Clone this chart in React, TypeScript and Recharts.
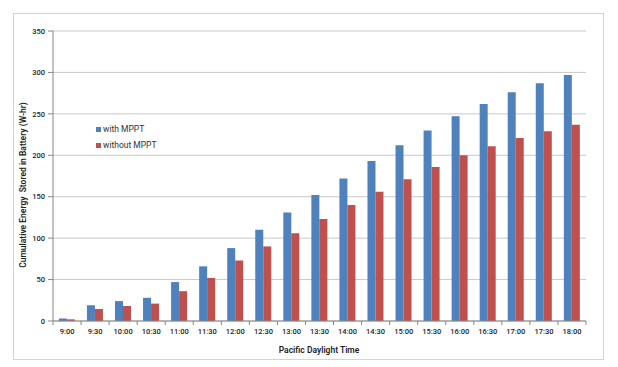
import { Bar, BarChart, CartesianGrid, XAxis, YAxis } from "recharts";

const times = [
    "9:00", "9:30", "10:00", "10:30", "11:00", "11:30", "12:00", "12:30", "13:00", "13:30",
    "14:00", "14:30", "15:00", "15:30", "16:00", "16:30", "17:00", "17:30", "18:00",
];
const withMppt = [3, 19, 24, 28, 47, 66, 88, 110, 131, 152, 172, 193, 212, 230, 247, 262, 276, 287, 297];
const withoutMppt = [2, 14.5, 18, 21, 36, 52, 73, 90, 106, 123, 140, 156, 171, 186, 200, 211, 221, 229, 237];
const yTicks = [0, 50, 100, 150, 200, 250, 300, 350];

const BLUE = "#4F81BD";
const RED = "#C0504D";
const FONT = "Roboto, 'Noto Sans', sans-serif";
const PLOT_W = 618 - 53 - 32;
const STEP = PLOT_W / times.length;

// x tick: label at the category centre, tick marks between categories (Excel style)
function TimeTick(props: any) {
    const { x, y, payload, index } = props;
    const last = index === times.length - 1;
    const axisY = y - 8;
    return (
        <g>
            <line x1={x - STEP / 2} x2={x - STEP / 2} y1={axisY} y2={axisY + 4} stroke="#868686" />
            {last && <line x1={x + STEP / 2} x2={x + STEP / 2} y1={axisY} y2={axisY + 4} stroke="#868686" />}
            <text x={x} y={y} dy="0.71em" textAnchor="middle" fontSize={7.5} fill="#222" fontFamily={FONT} fontWeight={500}>
                {payload.value}
            </text>
        </g>
    );
}

export default function App() {
    const data = times.map((t, i) => ({
        time: t,
        withMppt: withMppt[i],
        withoutMppt: withoutMppt[i],
    }));

    return (
        <div style={{ position: "absolute", left: 0, top: 0, width: 618, height: 367, background: "#fff", fontFamily: FONT }}>
            {/* chart frame */}
            <div
                style={{
                    position: "absolute",
                    left: 13,
                    top: 13,
                    width: 589,
                    height: 345,
                    border: "1px solid #d4d4d4",
                }}
            />
            <BarChart
                width={618}
                height={367}
                data={data}
                margin={{ top: 31, right: 32, bottom: 26, left: 13 }}
                barCategoryGap="21%"
                barGap={0}
                style={{ position: "absolute", left: 0, top: 0 }}
            >
                <CartesianGrid stroke="#c8c8c8" vertical={false} />
                <XAxis
                    dataKey="time"
                    height={20}
                    interval={0}
                    tickLine={false}
                    tickSize={6}
                    tickMargin={2}
                    axisLine={{ stroke: "#868686" }}
                    tick={<TimeTick />}
                />
                <YAxis
                    width={40}
                    domain={[0, 350]}
                    ticks={yTicks}
                    tickSize={5}
                    tickMargin={3}
                    tickLine={{ stroke: "#868686" }}
                    axisLine={{ stroke: "#868686" }}
                    tick={{ fontSize: 7.5, fill: "#222", fontFamily: FONT, fontWeight: 500 }}
                />
                <Bar dataKey="withMppt" fill={BLUE} isAnimationActive={false} />
                <Bar dataKey="withoutMppt" fill={RED} isAnimationActive={false} />
            </BarChart>

            {/* axis titles */}
            <div
                style={{
                    position: "absolute",
                    left: 23,
                    top: 185,
                    transform: "translate(-50%, -50%) rotate(-90deg)",
                    whiteSpace: "nowrap",
                    fontSize: 8.5,
                    fontWeight: 600,
                    color: "#222",
                }}
            >
                Cumulative Energy&nbsp; Stored in Battery (W-hr)
            </div>
            <div
                style={{
                    position: "absolute",
                    left: 319,
                    top: 350,
                    transform: "translate(-50%, -50%)",
                    whiteSpace: "nowrap",
                    fontSize: 8.5,
                    fontWeight: 600,
                    color: "#222",
                }}
            >
                Pacific Daylight Time
            </div>

            {/* legend */}
            {[
                { name: "with MPPT", color: BLUE, y: 129 },
                { name: "without MPPT", color: RED, y: 145 },
            ].map((item) => (
                <div
                    key={item.name}
                    style={{
                        position: "absolute",
                        left: 96,
                        top: item.y,
                        transform: "translateY(-50%)",
                        display: "flex",
                        alignItems: "center",
                        fontSize: 8.5,
                        color: "#333",
                        whiteSpace: "nowrap",
                    }}
                >
                    <span style={{ width: 5, height: 5, background: item.color, marginRight: 2 }} />
                    {item.name}
                </div>
            ))}
        </div>
    );
}
